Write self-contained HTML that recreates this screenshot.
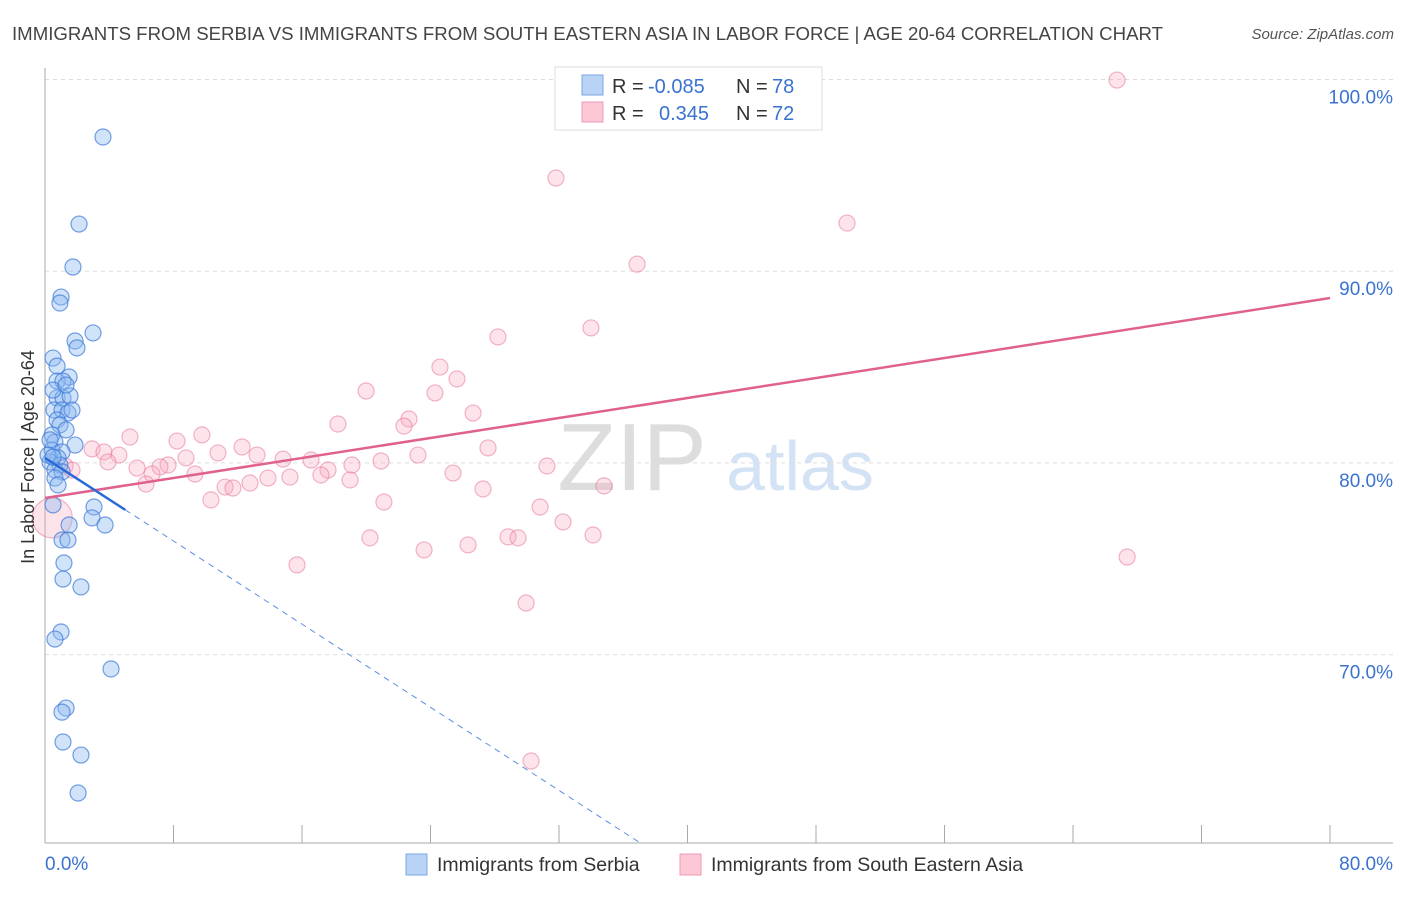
<!DOCTYPE html>
<html><head><meta charset="utf-8"><style>
body{margin:0;background:#fff;font-family:"Liberation Sans",sans-serif}
svg text{font-family:"Liberation Sans",sans-serif}
</style></head><body>
<svg id="chart" width="1406" height="892">
<text x="12" y="40" font-size="18" fill="#444" textLength="1151" lengthAdjust="spacingAndGlyphs">IMMIGRANTS FROM SERBIA VS IMMIGRANTS FROM SOUTH EASTERN ASIA IN LABOR FORCE | AGE 20-64 CORRELATION CHART</text>
<text x="1394" y="39" font-size="15" fill="#555" font-style="italic" text-anchor="end">Source: ZipAtlas.com</text>
<text x="632" y="490" font-size="96" fill="#ddd" font-family="Liberation Serif" text-anchor="middle">ZIP</text>
<text x="800" y="490" font-size="70" fill="#d4e2f5" text-anchor="middle">atlas</text>
<g id="grid"></g><g id="marks"></g>
<text transform="translate(34,457) rotate(-90)" font-size="18" fill="#333" text-anchor="middle">In Labor Force | Age 20-64</text>
<g>
<rect x="555" y="67" width="267" height="63" fill="#fff" stroke="#ddd"/>
<rect x="582" y="75" width="21" height="20" fill="#b9d3f5" stroke="#7aa6e6"/>
<rect x="582" y="102" width="21" height="20" fill="#fcc8d6" stroke="#f09ab4"/>
<text x="612" y="93" font-size="20" fill="#333">R = </text><text x="648" y="93" font-size="20" fill="#3a72d0">-0.085</text>
<text x="736" y="93" font-size="20" fill="#333">N = </text><text x="772" y="93" font-size="20" fill="#3a72d0">78</text>
<text x="612" y="120" font-size="20" fill="#333">R = </text><text x="659" y="120" font-size="20" fill="#3a72d0">0.345</text>
<text x="736" y="120" font-size="20" fill="#333">N = </text><text x="772" y="120" font-size="20" fill="#3a72d0">72</text>
</g>
<g>
<rect x="406" y="854" width="21" height="21" fill="#b9d3f5" stroke="#7aa6e6"/>
<text x="437" y="871" font-size="19.5" fill="#333">Immigrants from Serbia</text>
<rect x="680" y="854" width="21" height="21" fill="#fcc8d6" stroke="#f09ab4"/>
<text x="711" y="871" font-size="19.5" fill="#333">Immigrants from South Eastern Asia</text>
</g>
</svg>
<script>
const yTicks=[100,90,80,70];
const yTickLabels=["100.0%","90.0%","80.0%","70.0%"];
const xTicks=[0,8,16,24,32,40,48,56,64,72,80];
const blueX=[3.61,2.12,1.74,1.0,0.93,2.99,1.87,1.99,0.5,0.75,1.5,0.75,1.12,0.75,1.12,1.56,0.56,1.06,1.43,0.75,0.93,1.31,0.44,0.62,1.87,0.44,1.06,0.81,0.31,0.93,0.62,1.06,0.62,0.81,0.5,3.05,2.93,3.74,1.5,1.06,1.43,1.18,1.12,2.24,1.0,0.62,4.11,1.31,1.06,1.12,2.24,2.06,0.31,0.19,0.5,0.5,1.31,1.68];
const blueY=[97.0,92.46,90.22,88.65,88.34,86.78,86.36,86.0,85.47,85.05,84.48,84.27,84.27,83.39,83.39,83.49,82.76,82.76,82.6,82.24,81.98,81.72,81.46,81.09,80.93,80.67,80.57,80.26,80.05,79.89,79.63,79.53,79.21,78.85,77.81,77.7,77.13,76.76,76.76,75.98,75.98,74.78,73.94,73.53,71.18,70.81,69.25,67.21,67.0,65.44,64.76,62.78,81.2,80.41,83.8,80.3,84.06,82.76];
const pinkX=[43.08,66.74,31.81,49.93,36.86,33.99,28.2,24.59,25.65,19.99,24.28,26.65,22.66,22.35,18.24,5.29,9.77,8.22,27.58,12.27,2.93,3.67,4.6,10.77,13.2,8.78,14.82,16.56,20.92,23.22,19.11,3.92,5.73,7.66,7.16,1.25,1.68,31.25,17.62,9.34,25.4,13.88,15.25,17.18,6.66,6.29,18.99,12.76,11.21,11.7,34.8,27.27,10.33,21.1,30.82,32.25,20.23,34.12,28.83,29.45,23.6,26.34,15.69,67.37,29.95,30.26,0.45];
const pinkY=[99.97,99.97,94.86,92.51,90.37,87.04,86.57,85.0,84.38,83.75,83.65,82.6,82.29,81.92,82.03,81.35,81.46,81.14,80.78,80.83,80.73,80.57,80.41,80.52,80.41,80.26,80.2,80.15,80.1,80.41,79.89,80.05,79.73,79.89,79.79,79.84,79.63,79.84,79.63,79.42,79.47,79.21,79.26,79.37,79.42,78.9,79.11,78.95,78.74,78.69,78.8,78.64,78.07,77.96,77.7,76.92,76.09,76.24,76.14,76.09,75.46,75.72,74.68,75.09,72.69,64.45,77.13];
const pinkTrend=[78.17,88.6]; // at x=0 and x=80
const blueTrend=[80.26,-0.542]; // intercept, slope
const NS="http://www.w3.org/2000/svg";
const sx=v=>45+v/80*1285, sy=v=>79.5+(100-v)*19.17;
function mk(t,a,p){const e=document.createElementNS(NS,t);for(const k in a)e.setAttribute(k,a[k]);p.appendChild(e);return e;}
const g=document.getElementById('grid'),m=document.getElementById('marks');
yTicks.forEach((v,i)=>{
 const l=mk('line',{x1:45,x2:1393,y1:sy(v),y2:sy(v),stroke:'#ddd','stroke-dasharray':'4,4'},g);
 
 
 const t=mk('text',{x:1393,y:sy(v)+24,'font-size':19,fill:'#3a72d0','text-anchor':'end'},g);t.textContent=yTickLabels[i];
 
 
});
const ax=mk('line',{x1:45,x2:45,y1:68,y2:843,stroke:'#aaa'},g);


const bx=mk('line',{x1:45,x2:1393,y1:843,y2:843,stroke:'#aaa'},g);


xTicks.forEach(v=>{const l=mk('line',{x1:sx(v),x2:sx(v),y1:825,y2:843,stroke:'#aaa'},g);
 
 });
[[0,'start',45,'0.0%'],[80,'end',1393,'80.0%']].forEach(d=>{const t=mk('text',{x:d[2],y:870,'font-size':19,fill:'#3a72d0','text-anchor':d[1]},g);t.textContent=d[3];
 
 });
pinkX.forEach((x,i)=>{const c=mk('circle',{cx:sx(x),cy:sy(pinkY[i]),r:i==pinkX.length-1?20:8,fill:'rgba(248,165,190,0.3)',stroke:'rgba(232,120,155,0.55)','stroke-width':1.2},m);
 
 });
blueX.forEach((x,i)=>{const c=mk('circle',{cx:sx(x),cy:sy(blueY[i]),r:8,fill:'rgba(140,185,240,0.4)',stroke:'rgba(60,120,215,0.7)','stroke-width':1.2},m);
 
 });
const pl=mk('line',{x1:sx(0),y1:sy(pinkTrend[0]),x2:sx(80),y2:sy(pinkTrend[1]),stroke:'#e0608e','stroke-width':2.5},m);


const bEnd=(60.2-blueTrend[0])/blueTrend[1];
const bd=mk('line',{x1:sx(5),y1:sy(blueTrend[0]+5*blueTrend[1]),x2:sx(bEnd),y2:sy(blueTrend[0]+bEnd*blueTrend[1]),stroke:'#5a8ee0','stroke-width':1,'stroke-dasharray':'6,5'},m);


const bl=mk('line',{x1:sx(0),y1:sy(blueTrend[0]),x2:sx(5),y2:sy(blueTrend[0]+5*blueTrend[1]),stroke:'#2a6ad8','stroke-width':2.5},m);


</script>
</body></html>
